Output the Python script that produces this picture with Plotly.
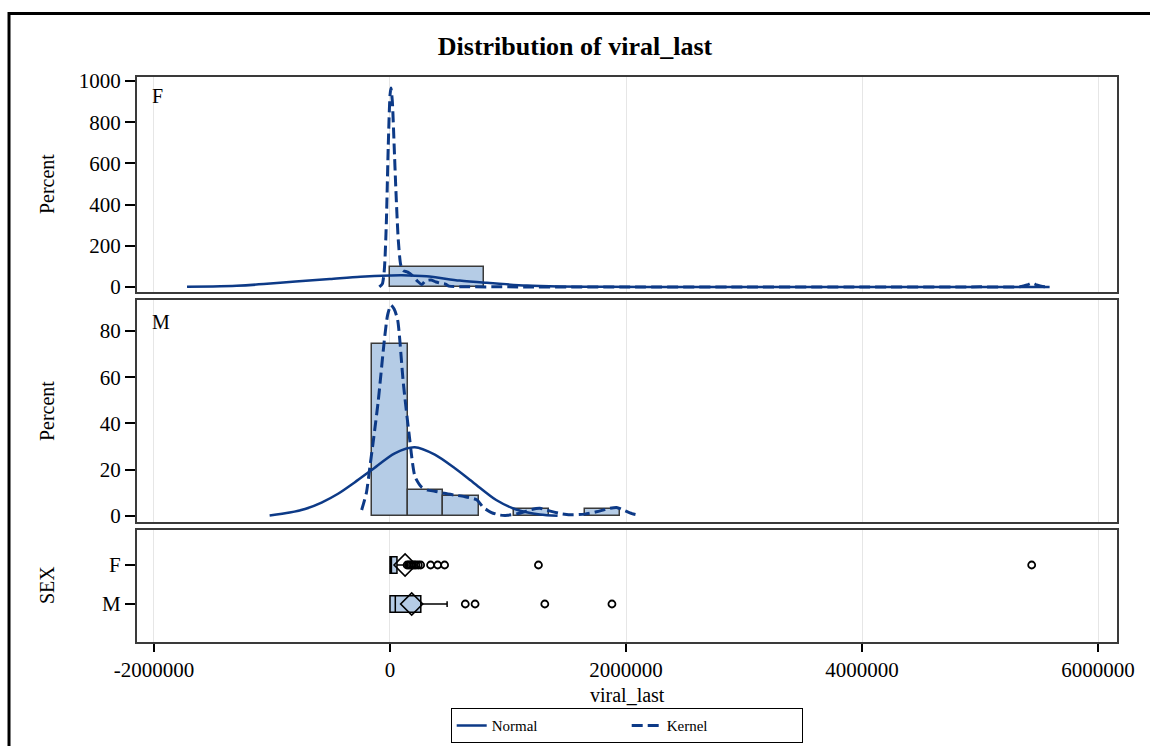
import plotly.graph_objects as go

# ---- histogram data (percent of observations per bin) ----
f_bin_mid = [400000]
f_bin_pct = [98.3]
f_bin_width = 800000

m_bin_mid = [0, 300000, 600000, 1200000, 1800000]
m_bin_pct = [74.3, 11.4, 8.6, 2.9, 2.9]
m_bin_width = 300000

# ---- fitted normal curve, F ----
f_norm_x = [-1720000, -1500000, -1300000, -1070000, -800000, -510000, -250000, 0,
            100000, 310000, 590000, 820000, 1160000, 1440000, 1800000, 2500000,
            3500000, 4500000, 5590000]
f_norm_y = [0.5, 2.5, 6, 14, 27, 39, 50, 56, 57, 52, 31, 20, 7, 2.5, 0.5, 0, 0, 0, 0]

# ---- kernel density curve, F ----
f_kern_x = [-90000, -65000, -50000, -42000, -30000, -15000, 0, 8000, 20000, 35000,
            50000, 70000, 90000, 110000, 150000, 190000, 230000, 270000, 300000,
            350000, 390000, 430000, 470000, 500000, 600000, 1000000, 2000000,
            3000000, 4000000, 5000000, 5350000, 5400000, 5440000, 5480000,
            5530000, 5590000]
f_kern_y = [0, 15, 70, 141, 330, 680, 930, 966, 900, 690, 470, 230, 110, 80, 72,
            55, 30, 12, 30, 34, 24, 18, 14, 4, 1, 0.5, 0.2, 0.2, 0.2, 0.5, 2, 10,
            19, 10, 2, 0.5]

# ---- fitted normal curve, M ----
m_norm_x = [-1020000, -850000, -720000, -580000, -440000, -300000, -155000, 40000,
            210000, 380000, 550000, 710000, 900000, 1070000, 1270000, 1420000]
m_norm_y = [0.2, 1.5, 3.0, 5.8, 9.6, 14.5, 19.9, 27.1, 29.7, 26.5, 20.6, 14.3,
            6.9, 2.8, 0.6, 0.1]

# ---- kernel density curve, M ----
m_kern_x = [-240000, -200000, -170000, -130000, -99000, -48000, -20000, 8000,
            35000, 65000, 113000, 161000, 212000, 268000, 320000, 380000, 460000,
            550000, 630000, 735000, 790000, 860000, 930000, 1000000, 1100000,
            1200000, 1270000, 1350000, 1450000, 1550000, 1650000, 1750000,
            1850000, 1920000, 1980000, 2050000, 2120000]
m_kern_y = [2.6, 10, 21.3, 37, 50, 76, 87, 91.2, 89.5, 84.8, 57.4, 35.8, 17, 12.5,
            11.2, 10.7, 9.8, 9.0, 8.4, 7.0, 3.7, 1.5, 0.4, 0.3, 1.2, 2.8, 3.3, 2.2,
            1.0, 0.5, 0.8, 1.8, 3.2, 3.7, 2.5, 1.0, 0.2]

# ---- box plot summaries by SEX ----
sex_groups = ["F", "M"]
box_q1 = [0, 0]
box_median = [12000, 45000]
box_q3 = [59000, 261000]
box_low = [0, 0]
box_high = [140000, 484000]
box_mean = [128000, 184000]
f_outliers = [145000, 160000, 175000, 190000, 205000, 220000, 240000, 260000,
              344000, 404000, 463000, 1258000, 5438000]
m_outliers = [638000, 721000, 1312000, 1881000]

# ---- axis ticks ----
x_tickvals = [-2000000, 0, 2000000, 4000000, 6000000]
x_ticktext = ["-2000000", "0", "2000000", "4000000", "6000000"]
f_yticks = [0, 200, 400, 600, 800, 1000]
m_yticks = [0, 20, 40, 60, 80]

FONT = "Liberation Serif"
LINE = "#0D3A87"
FILL = "#B5CCE6"
EDGE = "#3a3a3a"
GRID = "#E6E6E6"
DASH = "11px,5px"

fig = go.Figure()

# F panel
fig.add_trace(go.Bar(x=f_bin_mid, y=f_bin_pct, width=f_bin_width,
                     marker=dict(color=FILL, line=dict(color=EDGE, width=1.5)),
                     xaxis="x", yaxis="y", showlegend=False, hoverinfo="skip"))
fig.add_trace(go.Scatter(x=f_norm_x, y=f_norm_y, mode="lines",
                         line=dict(color=LINE, width=2.5, shape="spline", smoothing=0.8),
                         xaxis="x", yaxis="y", name="Normal"))
fig.add_trace(go.Scatter(x=f_kern_x, y=f_kern_y, mode="lines",
                         line=dict(color=LINE, width=3, dash=DASH, shape="spline", smoothing=0.6),
                         xaxis="x", yaxis="y", name="Kernel"))

# M panel
fig.add_trace(go.Bar(x=m_bin_mid, y=m_bin_pct, width=m_bin_width,
                     marker=dict(color=FILL, line=dict(color=EDGE, width=1.5)),
                     xaxis="x2", yaxis="y2", showlegend=False, hoverinfo="skip"))
fig.add_trace(go.Scatter(x=m_norm_x, y=m_norm_y, mode="lines",
                         line=dict(color=LINE, width=2.5, shape="spline", smoothing=0.8),
                         xaxis="x2", yaxis="y2", showlegend=False))
fig.add_trace(go.Scatter(x=m_kern_x, y=m_kern_y, mode="lines",
                         line=dict(color=LINE, width=3, dash=DASH, shape="spline", smoothing=0.6),
                         xaxis="x2", yaxis="y2", showlegend=False))

# Box panel
for i, g in enumerate(sex_groups):
    fig.add_trace(go.Box(
        y=[g], q1=[box_q1[i]], median=[box_median[i]], q3=[box_q3[i]],
        lowerfence=[box_low[i]], upperfence=[box_high[i]],
        orientation="h", width=0.42, whiskerwidth=0.35,
        fillcolor=FILL, line=dict(color="black", width=1.5),
        xaxis="x3", yaxis="y3", showlegend=False, hoverinfo="skip"))

fig.add_trace(go.Scatter(x=f_outliers, y=["F"] * len(f_outliers), mode="markers",
                         marker=dict(symbol="circle-open", size=7, color="black",
                                     line=dict(width=1.8)),
                         xaxis="x3", yaxis="y3", showlegend=False))
fig.add_trace(go.Scatter(x=m_outliers, y=["M"] * len(m_outliers), mode="markers",
                         marker=dict(symbol="circle-open", size=7, color="black",
                                     line=dict(width=1.8)),
                         xaxis="x3", yaxis="y3", showlegend=False))
fig.add_trace(go.Scatter(x=box_mean, y=sex_groups, mode="markers",
                         marker=dict(symbol="diamond-open", size=17, color="black",
                                     line=dict(width=1.6)),
                         xaxis="x3", yaxis="y3", showlegend=False))

XR = [-2144000, 6161000]
axis_common = dict(showline=True, mirror=True, linecolor="#3a3a3a", linewidth=2,
                   zeroline=False)
xaxis_common = dict(axis_common, range=XR, showgrid=True, gridcolor=GRID,
                    gridwidth=1, tickvals=x_tickvals)
tickfont = dict(family=FONT, size=21, color="black")

fig.update_layout(
    width=1150, height=746,
    margin=dict(l=137, r=33, t=77, b=104, autoexpand=False),
    paper_bgcolor="white", plot_bgcolor="white",
    font=dict(family=FONT, color="black"),
    bargap=0,
    title=dict(text="<b>Distribution of viral_last</b>", x=0.5, xanchor="center",
               y=1 - 46 / 746, yanchor="middle",
               font=dict(family=FONT, size=26, color="black")),
    xaxis=dict(xaxis_common, domain=[0, 1], anchor="y", matches="x3",
               showticklabels=False, ticks=""),
    xaxis2=dict(xaxis_common, domain=[0, 1], anchor="y2", matches="x3",
                showticklabels=False, ticks=""),
    xaxis3=dict(xaxis_common, domain=[0, 1], anchor="y3",
                ticktext=x_ticktext, ticks="outside", ticklen=8, tickwidth=1.5,
                tickcolor="black", tickfont=tickfont),
    yaxis=dict(axis_common, domain=[0.6195, 1.0], anchor="x", range=[-24.3, 1019.4],
               tickvals=f_yticks, ticks="outside", ticklen=10, tickwidth=1.5,
               tickcolor="black", tickfont=tickfont, showgrid=False),
    yaxis2=dict(axis_common, domain=[0.2124, 0.6053], anchor="x2", range=[-2.6, 93.4],
                tickvals=m_yticks, ticks="outside", ticklen=10, tickwidth=1.5,
                tickcolor="black", tickfont=tickfont, showgrid=False),
    yaxis3=dict(axis_common, domain=[0.0, 0.1982], anchor="x3", type="category",
                categoryorder="array", categoryarray=["M", "F"], range=[-0.974, 1.897],
                ticks="outside", ticklen=10, tickwidth=1.5, tickcolor="black",
                tickfont=tickfont, showgrid=False),
    legend=dict(orientation="h", x=0.5, xanchor="center", y=-0.1168, yanchor="top",
                bordercolor="black", borderwidth=1.2, bgcolor="white",
                font=dict(family=FONT, size=15, color="black"),
                entrywidth=130, tracegroupgap=0),
    showlegend=True,
)

annos = [
    dict(text="F", x=0.0133, y=0.9664, xanchor="left", yanchor="middle", font_size=20),
    dict(text="M", x=0.0133, y=0.5664, xanchor="left", yanchor="middle", font_size=20),
    dict(text="Percent", x=-0.0918, y=0.8106, xanchor="center", yanchor="middle",
         textangle=-90, font_size=20),
    dict(text="Percent", x=-0.0918, y=0.4088, xanchor="center", yanchor="middle",
         textangle=-90, font_size=20),
    dict(text="SEX", x=-0.0918, y=0.1009, xanchor="center", yanchor="middle",
         textangle=-90, font_size=20),
    dict(text="viral_last", x=0.5, y=-0.0938, xanchor="center", yanchor="middle",
         font_size=20),
]
for a in annos:
    fs = a.pop("font_size")
    fig.add_annotation(xref="paper", yref="paper", showarrow=False,
                       font=dict(family=FONT, size=fs, color="black"), **a)

# outer frame
fig.add_shape(type="rect", xref="paper", yref="paper",
              x0=-0.1306, x1=1.08, y0=-0.35, y1=1.1124,
              line=dict(color="black", width=3), fillcolor="rgba(0,0,0,0)")

fig.write_html("out.html")
